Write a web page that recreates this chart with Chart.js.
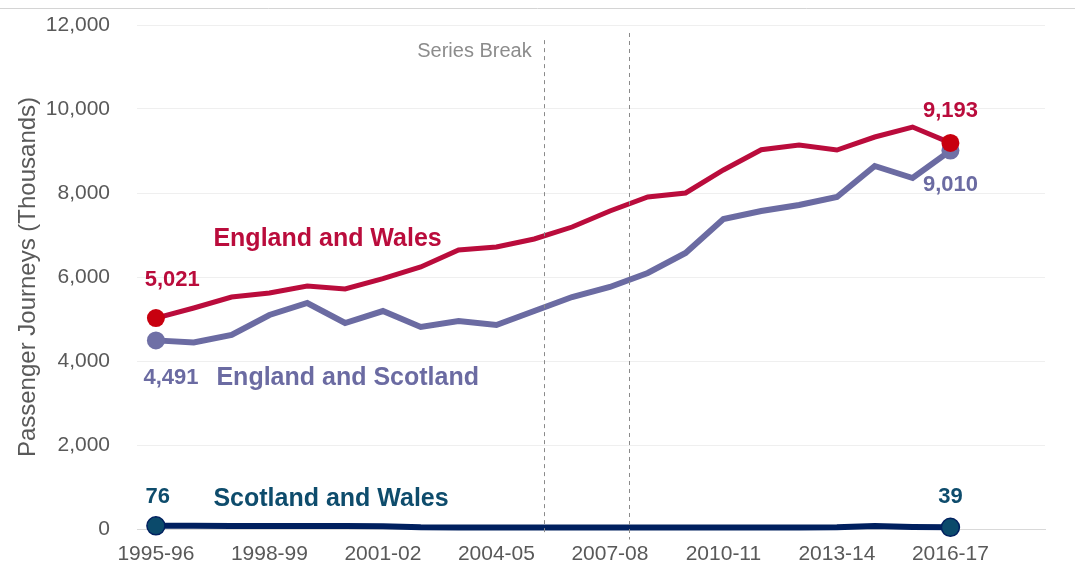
<!DOCTYPE html>
<html>
<head>
<meta charset="utf-8">
<script src="https://cdn.jsdelivr.net/npm/chart.js@4"></script>
<style>
html,body{margin:0;padding:0;background:#fff;}
#wrap{position:relative;width:1075px;height:566px;}
</style>
</head>
<body>
<div id="wrap"><canvas id="c"></canvas></div>
<script>
// Categories (financial years); axis extends two empty slots past the data
const years = ['1995-96','1996-97','1997-98','1998-99','1999-00','2000-01','2001-02','2002-03','2003-04','2004-05','2005-06','2006-07','2007-08','2008-09','2009-10','2010-11','2011-12','2012-13','2013-14','2014-15','2015-16','2016-17'];
const extraSlots = ['', ''];
const tickEvery = 3;

// Series values (thousands of passenger journeys)
const englandWales    = [5021,5262,5524,5620,5786,5714,5960,6238,6643,6714,6905,7190,7571,7905,8000,8548,9030,9143,9024,9333,9571,9193];
const englandScotland = [4491,4440,4619,5095,5381,4905,5190,4810,4952,4857,5190,5524,5762,6095,6571,7381,7571,7714,7905,8643,8357,9010];
const scotlandWales   = [76,75,74,73,72,70,66,42,38,37,36,36,35,35,35,36,36,37,40,70,45,39];

// Y axis ticks
const yTicks = [0,2000,4000,6000,8000,10000,12000];

// Series break markers (category index units)
const seriesBreaks = [10.25, 12.5];

const categories = years.concat(extraSlots);
const fmt = v => v.toLocaleString('en-GB');

const C_RED = '#BA0C3C', C_RED_PT = '#C8000F';
const C_PUR = '#6B6BA2', C_PUR_PT = '#6F70A6';
const C_NAV = '#00205F', C_NAV_PT = '#0B4A6B', C_NAV_TXT = '#0E4C6C';

function endsOnly(n, r){ return ctx => (ctx.dataIndex === 0 || ctx.dataIndex === n - 1) ? r : 0; }

const annotPlugin = {
  id: 'annot',
  beforeDraw(chart){
    const ctx = chart.ctx;
    ctx.save();
    ctx.strokeStyle = '#D4D4D4';
    ctx.lineWidth = 1;
    ctx.beginPath(); ctx.moveTo(0, 8.5); ctx.lineTo(chart.width, 8.5); ctx.stroke();
    ctx.restore();
  },
  afterDatasetsDraw(chart){
    const ctx = chart.ctx, xs = chart.scales.x, ys = chart.scales.y;
    const X = v => xs.getPixelForValue(v), Y = v => ys.getPixelForValue(v);
    ctx.save();
    // series break dashed lines
    ctx.strokeStyle = '#8A8A8A'; ctx.lineWidth = 1; ctx.setLineDash([4,4]);
    const tops = [11640, 11810], bots = [-90, -250];
    seriesBreaks.forEach((b,i) => {
      const x = Math.round(X(b)) + 0.5;
      ctx.beginPath(); ctx.moveTo(x, Y(tops[i])); ctx.lineTo(x, Y(bots[i])); ctx.stroke();
    });
    ctx.setLineDash([]);
    ctx.fillStyle = '#8C8C8C';
    ctx.font = '20px "Liberation Sans", Arial, sans-serif';
    ctx.textAlign = 'right'; ctx.textBaseline = 'middle';
    ctx.fillText('Series Break', X(seriesBreaks[0]) - 12, Y(11380));

    const last = years.length - 1;
    function txt(s, xv, yv, color, size, align){
      ctx.fillStyle = color;
      ctx.font = 'bold ' + size + 'px "Liberation Sans", Arial, sans-serif';
      ctx.textAlign = align; ctx.textBaseline = 'middle';
      ctx.fillText(s, X(xv), Y(yv));
    }
    // series names
    txt('England and Wales', 1.52, 6900, C_RED, 25, 'left');
    txt('England and Scotland', 1.6, 3590, C_PUR, 25, 'left');
    txt('Scotland and Wales', 1.52, 700, C_NAV_TXT, 25, 'left');
    // end values
    txt(fmt(englandWales[0]), 0.43, 5930, C_RED, 22, 'center');
    txt(fmt(englandScotland[0]), 0.4, 3600, C_PUR, 22, 'center');
    txt(fmt(scotlandWales[0]), 0.05, 760, C_NAV_TXT, 22, 'center');
    txt(fmt(englandWales[last]), last, 9950, C_RED, 22, 'center');
    txt(fmt(englandScotland[last]), last, 8200, C_PUR, 22, 'center');
    txt(fmt(scotlandWales[last]), last, 760, C_NAV_TXT, 22, 'center');
    ctx.restore();
  }
};

new Chart(document.getElementById('c'), {
  type: 'line',
  data: {
    labels: categories,
    datasets: [
      { label: 'England and Wales', data: englandWales, borderColor: C_RED, borderWidth: 5, clip: false,
        pointRadius: endsOnly(englandWales.length, 9), pointBackgroundColor: C_RED_PT, pointBorderColor: C_RED_PT, pointBorderWidth: 0, tension: 0 },
      { label: 'Scotland and Wales', data: scotlandWales, borderColor: C_NAV, borderWidth: 6, clip: false,
        pointRadius: endsOnly(scotlandWales.length, 9), pointBackgroundColor: C_NAV_PT, pointBorderColor: C_NAV, pointBorderWidth: 1.5, tension: 0 },
      { label: 'England and Scotland', data: englandScotland, borderColor: C_PUR, borderWidth: 6, clip: false,
        pointRadius: endsOnly(englandScotland.length, 9), pointBackgroundColor: C_PUR_PT, pointBorderColor: C_PUR_PT, pointBorderWidth: 0, tension: 0 }
    ]
  },
  options: {
    responsive: true, maintainAspectRatio: false, animation: false,
    layout: { padding: { top: 25, right: 30, left: 0, bottom: 0 } },
    plugins: { legend: { display: false }, tooltip: { enabled: false } },
    scales: {
      x: {
        type: 'category', offset: true,
        grid: { display: false, drawTicks: false },
        border: { display: true, color: '#D9D9D9', width: 1 },
        ticks: {
          autoSkip: false, maxRotation: 0, padding: 13, color: '#595959',
          font: { family: '"Liberation Sans", Arial, sans-serif', size: 21 },
          callback: (v, i) => (i % tickEvery === 0 && i < years.length) ? years[i] : ''
        },
        afterFit: s => { s.height = 37; s.paddingTop = 0; s.paddingBottom = 0; }
      },
      y: {
        min: 0, max: 12000,
        afterBuildTicks: s => { s.ticks = yTicks.map(v => ({ value: v })); },
        grid: { color: '#EFEFEF', lineWidth: 1, drawTicks: false },
        border: { display: false },
        ticks: { padding: 27, color: '#595959',
          font: { family: '"Liberation Sans", Arial, sans-serif', size: 21 },
          callback: v => fmt(v) },
        title: { display: true, text: 'Passenger Journeys (Thousands)', color: '#595959',
          font: { family: '"Liberation Sans", Arial, sans-serif', size: 24 }, padding: { top: 14, bottom: 0 } },
        afterFit: s => { s.width = 137; s.paddingTop = 0; s.paddingBottom = 0; }
      }
    }
  },
  plugins: [annotPlugin]
});
</script>
</body>
</html>
